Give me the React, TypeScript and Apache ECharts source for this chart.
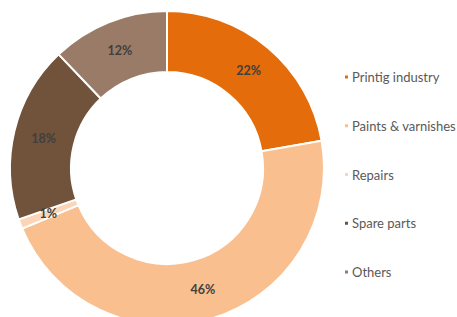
import React, { useEffect, useRef } from "react";
import * as echarts from "echarts";

const categories = ["Printig industry", "Paints & varnishes", "Repairs", "Spare parts", "Others"];
const values = [22, 46, 1, 18, 12];
const colors = ["#E46C0A", "#F9BF8F", "#FBD5B5", "#71523A", "#997B67"];

export default function App() {
  const ref = useRef<HTMLDivElement>(null);
  useEffect(() => {
    document.body.style.margin = "0";
    const chart = echarts.init(ref.current!, null, { renderer: "svg" });
    const data = categories.map((name, i) => ({ name, value: values[i] }));
    chart.setOption({
      animation: false,
      backgroundColor: "#ffffff",
      color: colors,
      legend: {
        orient: "vertical",
        left: 338,
        top: 65,
        itemGap: 34.75,
        itemWidth: 5,
        itemHeight: 5,
        icon: "rect",
        textStyle: { fontFamily: "Lato", fontSize: 13, color: "#595959", lineHeight: 14, padding: [0, 0, 0, -2] },
        data: categories,
      },
      series: [
        {
          type: "pie",
          center: [167, 168],
          radius: [96, 157],
          startAngle: 90,
          clockwise: true,
          avoidLabelOverlap: false,
          itemStyle: { borderColor: "#ffffff", borderWidth: 2 },
          label: { show: false },
          labelLine: { show: false },
          emphasis: { disabled: true },
          data,
        },
        {
          type: "pie",
          center: [167, 168],
          radius: [90, 158],
          startAngle: 90,
          clockwise: true,
          silent: true,
          avoidLabelOverlap: false,
          itemStyle: { color: "rgba(0,0,0,0)", borderWidth: 0 },
          label: {
            show: true,
            position: "inside",
            formatter: (p: any) => p.value + "%",
            fontFamily: "Lato",
            fontWeight: "bold",
            fontSize: 12.5,
            color: "#404040",
          },
          labelLine: { show: false },
          emphasis: { disabled: true },
          data,
        },
      ],
    });
    return () => chart.dispose();
  }, []);
  return <div ref={ref} style={{ width: 457, height: 317 }} />;
}
